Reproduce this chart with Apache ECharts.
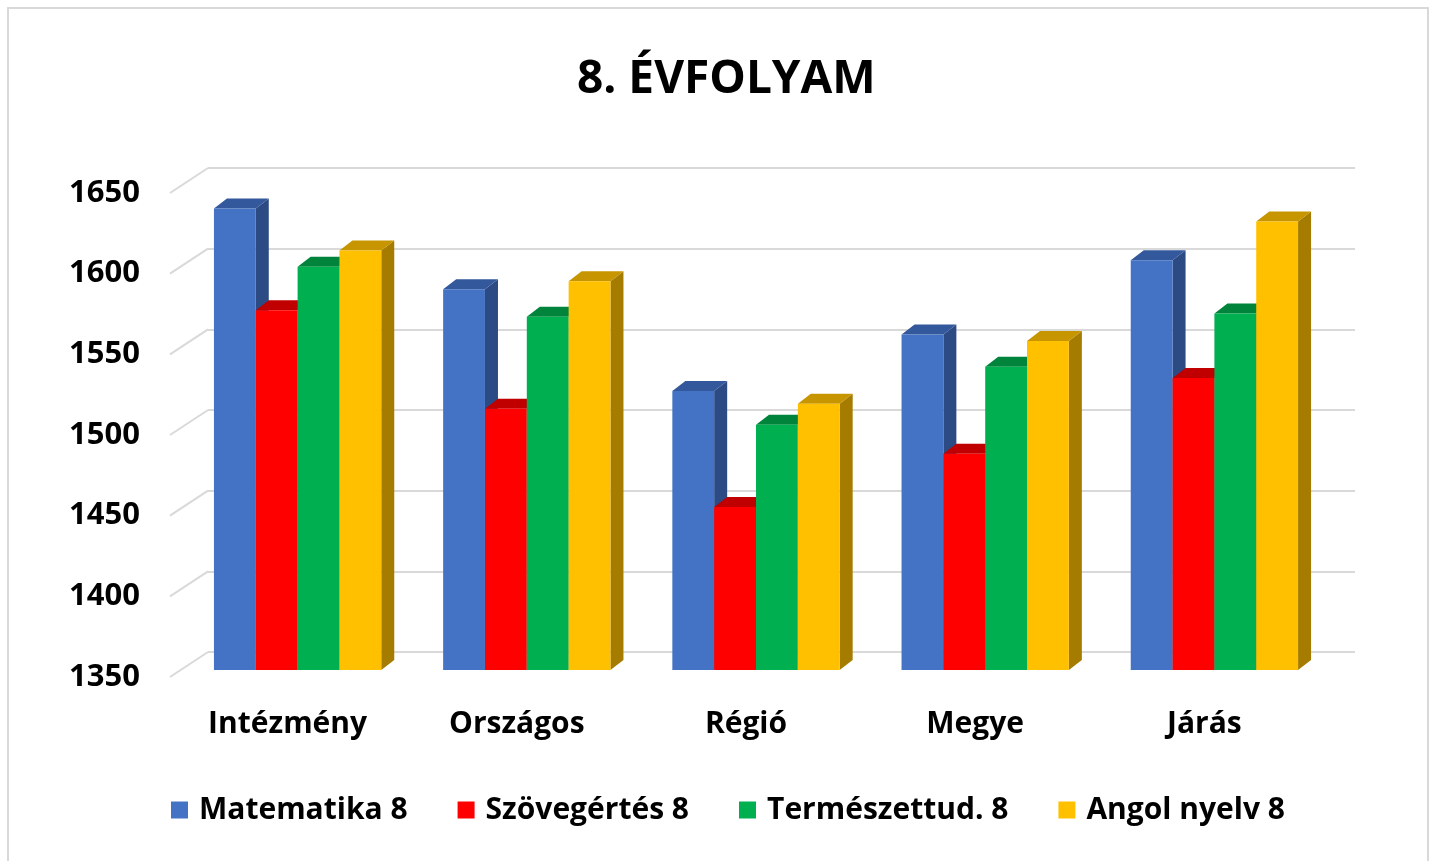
<!DOCTYPE html>
<html>
<head>
<meta charset="utf-8">
<title>8. ÉVFOLYAM</title>
<script src="https://cdn.jsdelivr.net/npm/echarts@6/dist/echarts.min.js"></script>
<style>
  html, body { margin: 0; padding: 0; background: #fff; }
  #chart { width: 1430px; height: 861px; }
</style>
</head>
<body>
<div id="chart"></div>
<script>
// kategóriák és értékek
var categories = ['Intézmény', 'Országos', 'Régió', 'Megye', 'Járás'];
var seriesNames = ['Matematika 8', 'Szövegértés 8', 'Természettud. 8', 'Angol nyelv 8'];
var matematika = [1636, 1586, 1523, 1558, 1604];
var szovegertes = [1573, 1512, 1451, 1484, 1531];
var termeszettud = [1600, 1569, 1502, 1538, 1571];
var angol = [1610, 1591, 1515, 1554, 1628];
var yTicks = [1350, 1400, 1450, 1500, 1550, 1600, 1650];

var values = [matematika, szovegertes, termeszettud, angol];
var colors = ['#4472C4', '#FF0000', '#00B050', '#FFC000'];
var topColors = ['#34589C', '#C00000', '#00843C', '#C79500'];
var sideColors = ['#2C4A84', '#A80000', '#006E32', '#A67C00'];

var FONT = '"Open Sans", "Liberation Sans", sans-serif';
var DX = 13, DY = 10; // mélység

var chart = echarts.init(document.getElementById('chart'));

function barRenderer(idx) {
  return function (params, api) {
    var cat = api.value(0);
    var top = api.coord([cat, api.value(1)]);
    var base = api.coord([cat, yTicks[0]]);
    var band = api.size([1, 0])[0];
    var groupW = band * 0.73;
    var w = groupW / 4;
    var x0 = top[0] - groupW / 2 + idx * w;
    var x1 = x0 + w;
    var y = top[1], yb = base[1];
    return {
      type: 'group',
      children: [
        { type: 'polygon', shape: { points: [[x1, y], [x1 + DX, y - DY], [x1 + DX, yb - DY], [x1, yb]] },
          style: { fill: sideColors[idx] } },
        { type: 'polygon', shape: { points: [[x0, y], [x0 + DX, y - DY], [x1 + DX, y - DY], [x1, y]] },
          style: { fill: topColors[idx] } },
        { type: 'rect', shape: { x: x0, y: y, width: w, height: yb - y },
          style: { fill: colors[idx] } }
      ]
    };
  };
}

var series = [];
// oldalfal rácsvonalai
series.push({
  type: 'custom',
  xAxisIndex: 0, yAxisIndex: 0,
  silent: true,
  data: yTicks.map(function (v) { return [0, v]; }),
  renderItem: function (params, api) {
    var p = api.coord([0, api.value(1)]);
    return {
      type: 'line',
      shape: { x1: p[0], y1: p[1], x2: p[0] - 38, y2: p[1] + 25 },
      style: { stroke: '#d9d9d9', lineWidth: 2 }
    };
  }
});
seriesNames.forEach(function (name, i) {
  series.push({
    name: name,
    type: 'custom',
    xAxisIndex: 1, yAxisIndex: 1,
    itemStyle: { color: colors[i] },
    data: values[i].map(function (v, j) { return [j, v]; }),
    encode: { x: 0, y: 1 },
    renderItem: barRenderer(i)
  });
});

chart.setOption({
  backgroundColor: '#fff',
  animation: false,
  title: {
    text: '8. ÉVFOLYAM',
    left: 572,
    top: 52,
    textStyle: { fontFamily: FONT, fontSize: 46, fontWeight: 'bold', color: '#000' }
  },
  graphic: [{
    type: 'rect',
    shape: { x: 8, y: 8, width: 1420, height: 900 },
    style: { fill: null, stroke: '#d9d9d9', lineWidth: 2 },
    silent: true
  }],
  legend: {
    data: seriesNames,
    left: 166,
    top: 790,
    icon: 'rect',
    itemWidth: 17,
    itemHeight: 17,
    itemGap: 50,
    textStyle: { fontFamily: FONT, fontSize: 30, fontWeight: 'bold', color: '#000', padding: [0, 0, 0, 6] }
  },
  grid: [
    { left: 208, right: 75, top: 168, bottom: 209 },   // hátsó fal
    { left: 183, right: 101, top: 186, bottom: 191 },  // oszlopok
    { left: 170, width: 10, top: 193, bottom: 184 }     // tengelyfeliratok
  ],
  xAxis: [
    { gridIndex: 0, type: 'value', min: 0, max: 1, show: false },
    { gridIndex: 1, type: 'category', data: categories,
      axisLine: { show: false }, axisTick: { show: false },
      axisLabel: { margin: 39, padding: [0, 20, 0, 0], fontFamily: FONT, fontSize: 30, fontWeight: 'bold', color: '#000' } },
    { gridIndex: 2, type: 'value', show: false }
  ],
  yAxis: [
    { gridIndex: 0, type: 'value', min: 1350, max: 1650, interval: 50,
      axisLine: { show: false }, axisTick: { show: false }, axisLabel: { show: false },
      splitLine: { lineStyle: { color: '#d9d9d9', width: 2 } } },
    { gridIndex: 1, type: 'value', min: 1350, max: 1650, interval: 50, show: false },
    { gridIndex: 2, type: 'value', min: 1350, max: 1650, interval: 50,
      axisLine: { show: false }, axisTick: { show: false }, splitLine: { show: false },
      axisLabel: { margin: 30, formatter: function (v) { return String(v); },
        fontFamily: FONT, fontSize: 31, fontWeight: 'bold', color: '#000' } }
  ],
  series: series
});
</script>
</body>
</html>
